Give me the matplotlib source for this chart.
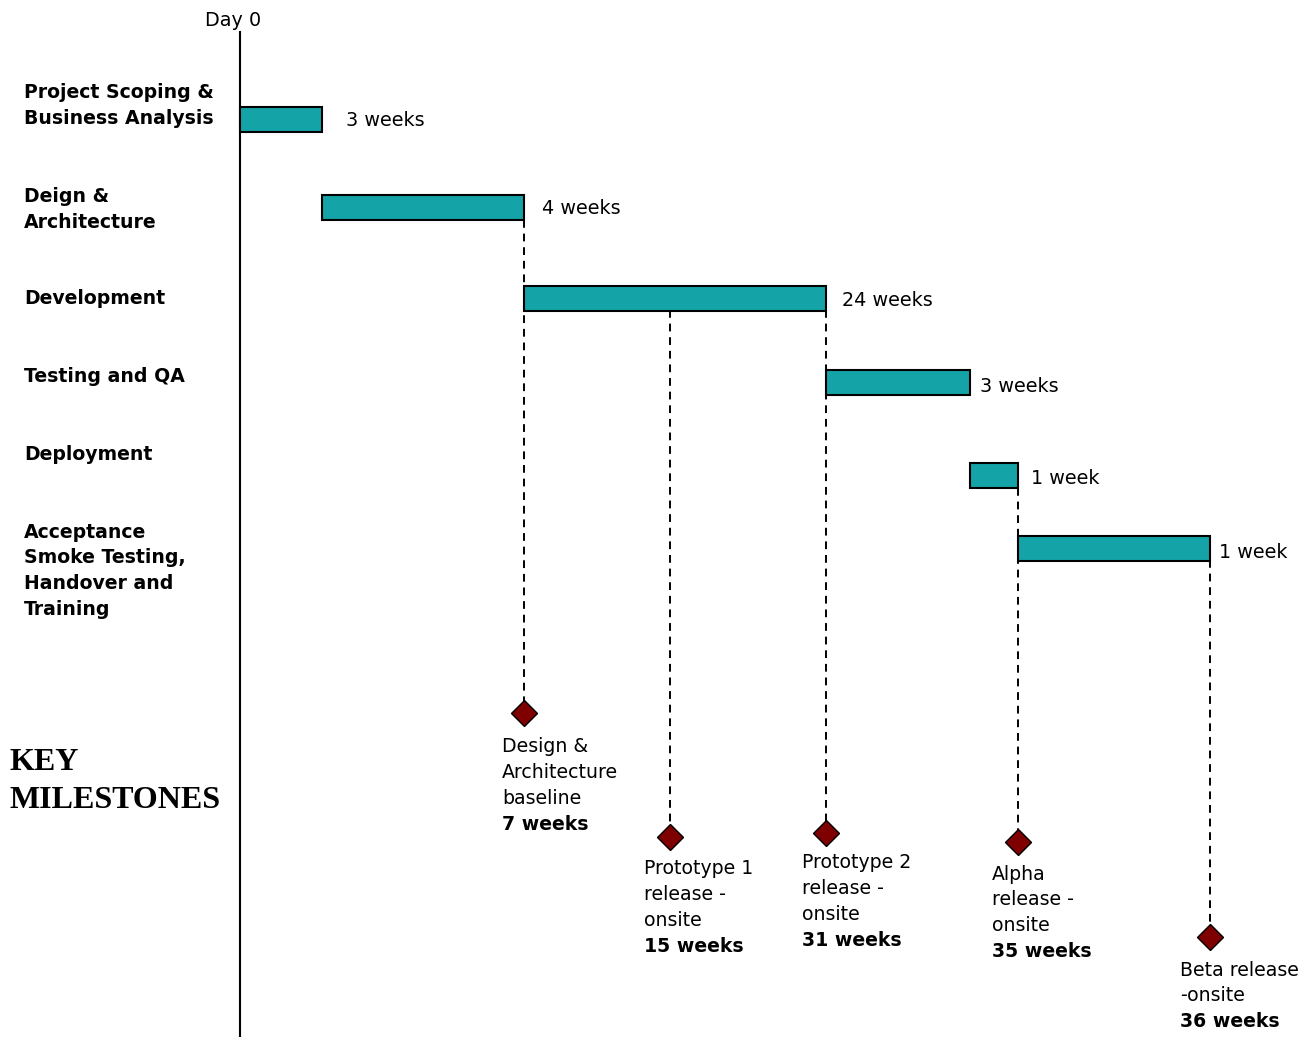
import matplotlib.pyplot as plt

# tasks (x positions in diagram units, measured from Day 0)
tasks = [
    ["Project Scoping &", "Business Analysis"],
    ["Deign &", "Architecture"],
    ["Development"],
    ["Testing and QA"],
    ["Deployment"],
    ["Acceptance", "Smoke Testing,", "Handover and", "Training"],
]
task_start = [0, 82, 284, 586, 730, 778]
task_end = [82, 284, 586, 730, 778, 970]
durations = ["3 weeks", "4 weeks", "24 weeks", "3 weeks", "1 week", "1 week"]

# milestones
milestone_x = [284, 430, 586, 778, 970]
milestone_text = [
    ["Design &", "Architecture", "baseline"],
    ["Prototype 1", "release -", "onsite"],
    ["Prototype 2", "release -", "onsite"],
    ["Alpha", "release -", "onsite"],
    ["Beta release", "-onsite"],
]
milestone_weeks = ["7 weeks", "15 weeks", "31 weeks", "35 weeks", "36 weeks"]

# layout (pixel-like units, y down)
row_y = [119.5, 207, 298, 382, 475, 548]
row_label_y = [93, 197, 299, 377, 455, 532]
dur_y = [120, 208, 300, 386, 478, 552]
dur_gap = [24, 18, 16, 10, 13, 9]
ms_y = [713, 837, 833, 842, 937]
ms_line_top = [220, 310, 310, 488, 560]
ms_text_y = [747, 869, 863, 874, 970]
ms_text_dx = [-22, -26, -24, -26, -30]
LINE = 25.8
BAR_H = 25
TEAL = "#14A3A6"
DARK_RED = "#7F0000"

fig = plt.figure(figsize=(13.14, 10.37), dpi=100)
ax = fig.add_axes([0, 0, 1, 1])
ax.set_xlim(-240, 1074)
ax.set_ylim(1037, 0)
ax.axis("off")

# Day 0 line
ax.plot([0, 0], [32, 1037], color="black", lw=1.5, zorder=3)
ax.text(-7, 20, "Day 0", ha="center", va="center", fontsize=13.8)

# bars
for i in range(len(tasks)):
    ax.barh(row_y[i], task_end[i] - task_start[i], left=task_start[i], height=BAR_H,
            color=TEAL, edgecolor="black", linewidth=1.5, zorder=3)
    ax.text(task_end[i] + dur_gap[i], dur_y[i], durations[i], ha="left", va="center", fontsize=13.8)
    for j, line in enumerate(tasks[i]):
        ax.text(-216, row_label_y[i] + j * LINE, line, ha="left", va="center",
                fontsize=13.6, fontweight="bold")

# milestones
for k in range(len(milestone_x)):
    ax.plot([milestone_x[k], milestone_x[k]], [ms_line_top[k], ms_y[k]], color="black",
            lw=1.4, linestyle=(0, (4, 3)), zorder=1)
    ax.plot(milestone_x[k], ms_y[k], marker="D", markersize=13, color=DARK_RED,
            markeredgecolor="black", markeredgewidth=1.0, zorder=4)
    tx = milestone_x[k] + ms_text_dx[k]
    for j, line in enumerate(milestone_text[k]):
        ax.text(tx, ms_text_y[k] + j * LINE, line, ha="left", va="center", fontsize=13.6)
    ax.text(tx, ms_text_y[k] + len(milestone_text[k]) * LINE, milestone_weeks[k],
            ha="left", va="center", fontsize=13.6, fontweight="bold")

ax.text(-230, 763, "KEY", ha="left", va="center", fontsize=23, fontweight="bold",
        family="Liberation Serif")
ax.text(-230, 800, "MILESTONES", ha="left", va="center", fontsize=23, fontweight="bold",
        family="Liberation Serif")

fig.savefig("out.png", dpi=100)
